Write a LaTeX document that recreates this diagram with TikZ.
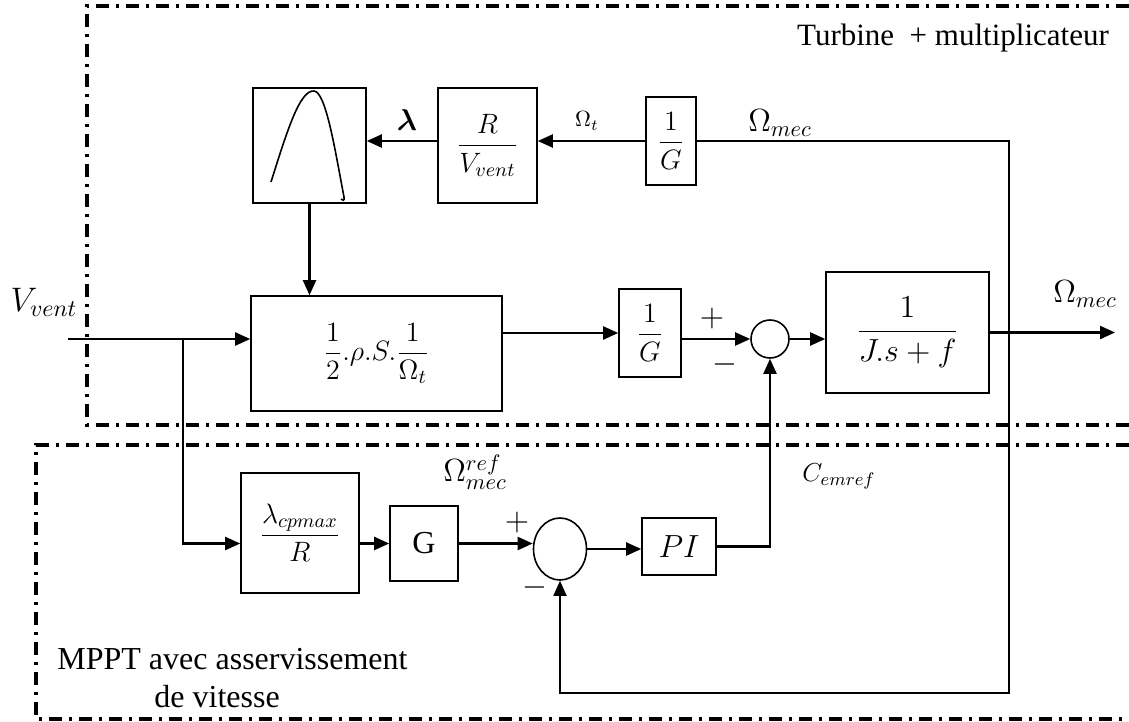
\RequirePackage{fix-cm}
\documentclass[tikz,border=0pt]{standalone}
\usepackage{amsmath,amssymb}
\usepackage{fontspec}
\setmainfont{Liberation Serif}
\usetikzlibrary{arrows.meta,shapes.geometric}
\newcommand{\fsz}[1]{\fontsize{#1}{#1}\selectfont}

\begin{document}
\begin{tikzpicture}[x=0.5pt, y=-0.5pt, >={Triangle[length=7.5pt,width=6.5pt]},
	bloc/.style={draw, line width=0.8pt, inner sep=0pt},
	sig/.style={->, line width=1.1pt},
	cadre/.style={line width=1.6pt, dash pattern=on 6.5pt off 3.5pt on 1.5pt off 3.5pt},
	every node/.style={font=\fsz{15}, inner sep=1pt}]
	\useasboundingbox (0,0) rectangle (1129,722);
	% cadres
	\draw[cadre] (1129,6) -- (87,6) -- (87,425) -- (1129,425);
	\draw[cadre] (1129,445) -- (36,445) -- (36,719) -- (1129,719);
	% turbine + multiplicateur
	\node[bloc, minimum width=56.5pt, minimum height=57.5pt] (cp) at (309.5,145.5) {};
	\draw[line width=0.8pt] (271,182) .. controls (288,128) and (300,90) .. (314,91) .. controls (326,92) and (335,150) .. (344,197) .. controls (345,201) and (342,201) .. (341,199);
	\node[bloc, minimum width=49.5pt, minimum height=57.5pt] (rv) at (487.5,145.5) {\fsz{14}$\dfrac{R}{V_{vent}}$};
	\node[bloc, minimum width=25pt, minimum height=44pt] (gi1) at (671,141) {\fsz{14}$\dfrac{1}{G}$};
	\node[bloc, minimum width=125.5pt, minimum height=57.5pt] (aero) at (376.5,353.5) {\fsz{14}$\dfrac{1}{2}.\rho.S.\dfrac{1}{\Omega_t}$};
	\node[bloc, minimum width=31pt, minimum height=44pt] (gi2) at (650,333) {\fsz{14}$\dfrac{1}{G}$};
	\node[circle, draw, line width=0.8pt, minimum size=19pt, inner sep=0pt] (s1) at (770,339) {};
	\node[bloc, minimum width=81.5pt, minimum height=60.5pt] (meca) at (907.5,332.5) {\fsz{16}$\dfrac{1}{J.s+f}$};
	% MPPT
	\node[bloc, minimum width=59pt, minimum height=60pt] (lam) at (300,533) {\fsz{14}$\dfrac{\lambda_{cpmax}}{R}$};
	\node[bloc, minimum width=34pt, minimum height=37.5pt] (gain) at (424,543.5) {\fsz{16}G};
	\node[ellipse, draw, line width=0.8pt, minimum width=26.5pt, minimum height=31pt, inner sep=0pt] (s2) at (560,549) {};
	\node[bloc, minimum width=37pt, minimum height=28.5pt] (pi) at (679,546.5) {\fsz{16}$PI$};
	\coordinate (vin) at (68,339);
	\coordinate (br) at (183,339);
	\coordinate (vout) at (1115,332.5);
	\coordinate (fb) at (1009,693);
	% liaisons
	\draw[sig] (vin) -- (vin -| aero.west);
	\draw[sig] (br) |- (lam.west |- gain);
	\draw[sig] (lam.east |- gain) -- (gain.west);
	\draw[sig] (gain.east) -- (gain.east -| s2.west);
	\draw[sig] (s2.east) -- (s2.east -| pi.west);
	\draw[sig] (pi.east) -| (s1.south);
	\draw[sig] (s1.east) -- (s1.east -| meca.west);
	\draw[sig] (meca.east) -- (vout);
	\draw[sig] (aero.east |- gi2) -- (gi2.west);
	\draw[sig] (gi2.east |- s1) -- (s1.west);
	\draw[sig] (cp.south) -- (cp.south |- aero.north);
	\draw[sig] (gi1.west) -- (gi1.west -| rv.east);
	\draw[sig] (rv.west |- gi1.west) -- (cp.east |- gi1.west);
	\draw[->, line width=0.9pt] (gi1.east) -| (fb) -| (s2.south);
	% etiquettes
	\node (lbd) at (407,120) {$\boldsymbol{\lambda}$};
	\node (omt) at (587,121) {\fsz{11}$\Omega_t$};
	\node (om1) at (780,123) {\fsz{16}$\Omega_{mec}$};
	\node (om2) at (1085,294) {\fsz{16}$\Omega_{mec}$};
	\node (vv) at (44,302) {\fsz{17}$V_{vent}$};
	\node (p1) at (712,318) {\fsz{16}$+$};
	\node (m1) at (725,364) {\fsz{16}$-$};
	\node (p2) at (517,522) {\fsz{16}$+$};
	\node (m2) at (535,587) {\fsz{16}$-$};
	\node (omref) at (475,472) {\fsz{16}$\Omega_{mec}^{ref}$};
	\node (cem) at (839,476) {\fsz{13}$C_{emref}$};
	\node (turb) at (953,38) {\fsz{15.5}Turbine\ \ + multiplicateur};
	\node[anchor=west] (mppt1) at (55,659) {\fsz{16}MPPT avec asservissement};
	\node[anchor=west] (mppt2) at (152,697) {\fsz{16}de vitesse};
\end{tikzpicture}
\end{document}
